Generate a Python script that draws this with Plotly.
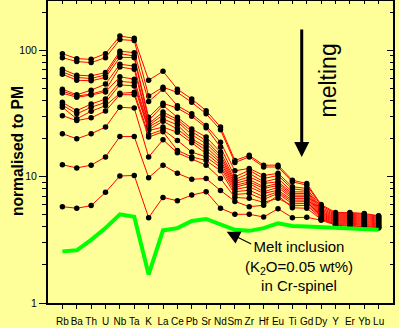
import plotly.graph_objects as go
import math

elements = ["Rb", "Ba", "Th", "U", "Nb", "Ta", "K", "La", "Ce", "Pb", "Sr", "Nd",
            "Sm", "Zr", "Hf", "Eu", "Ti", "Gd", "Dy", "Y", "Er", "Yb", "Lu"]

line_01 = [93.7, 85.5, 84.5, 93.7, 129, 124, 57.8, 68, 49.1, 41.0, 33.2, 24.6, 13.4, 14.7, 12.3, 12.3, 9.35, 8.8, 6.0, 5.2, 5.2, 5.1, 4.9]
line_02 = [87.1, 81.1, 79.6, 87.1, 121, 119, 43.3, 50.9, 46.3, 38.6, 31.3, 23.4, 12.9, 14.3, 11.9, 11.9, 9.08, 8.55, 5.87, 5.12, 5.12, 5.03, 4.85]
line_03 = [70.5, 63.3, 62.5, 66.4, 98, 95.4, 39.2, 49.1, 36.3, 31.3, 25.3, 18.7, 11.1, 11.6, 10.2, 10.6, 8.3, 8.05, 5.71, 5.03, 5.03, 4.94, 4.76]
line_04 = [67.1, 60.7, 59.6, 63.6, 93.7, 89.7, 29.4, 38.0, 34.7, 30.0, 24.3, 17.1, 9.95, 11.2, 9.64, 10.2, 7.98, 7.76, 5.56, 4.94, 4.94, 4.85, 4.68]
line_05 = [64.4, 57.8, 57.1, 60.7, 87.6, 87.1, 27.7, 36.5, 29.4, 23.8, 20.5, 15.6, 9.47, 10.6, 9.08, 9.64, 7.58, 7.55, 5.44, 4.85, 4.85, 4.76, 4.59]
line_06 = [49.1, 44.3, 48.2, 53.8, 77.2, 74.8, 26.1, 32.4, 28.2, 22.7, 19.2, 14.7, 9.14, 9.95, 8.81, 9.08, 7.35, 7.35, 5.31, 4.76, 4.76, 4.68, 4.51]
line_07 = [47.4, 43.3, 44.9, 48.2, 73.5, 70.5, 25.3, 30.7, 27.2, 21.4, 18.2, 14.1, 8.81, 9.47, 8.3, 8.81, 7.13, 7.13, 5.21, 4.68, 4.68, 4.59, 4.43]
line_08 = [45.7, 42.3, 44.1, 46.7, 61.4, 58.9, 24.6, 28.6, 25.6, 19.9, 17.1, 13.4, 8.5, 9.08, 8.05, 8.5, 6.93, 6.93, 5.12, 4.59, 4.59, 4.51, 4.35]
line_09 = [38.6, 33.2, 37.4, 41.0, 56.5, 55.4, 23.5, 27.3, 23.8, 19.3, 16.1, 12.9, 8.2, 8.81, 7.58, 8.2, 6.72, 6.72, 5.03, 4.51, 4.51, 4.43, 4.27]
line_10 = [36.8, 31.3, 35.3, 38.6, 53.1, 52.1, 23.1, 24.6, 22.4, 18.5, 15.2, 12.3, 7.9, 8.3, 7.35, 7.8, 6.51, 6.51, 4.94, 4.43, 4.43, 4.35, 4.2]
line_11 = [35.3, 28.6, 32.8, 36.3, 45.5, 46.3, 21.4, 23.5, 19.3, 15.6, 14.3, 11.8, 7.58, 7.8, 6.93, 7.58, 6.3, 6.33, 4.85, 4.35, 4.35, 4.27, 4.12]
line_12 = [30.3, 27.7, 29.1, 33.0, 44.4, 44.3, 20.5, 22.6, 16.1, 14.3, 13.4, 11.1, 7.22, 7.35, 6.6, 7.35, 6.08, 6.14, 4.76, 4.27, 4.27, 4.2, 4.05]
line_13 = [21.8, 19.9, 21.8, 24.6, 35.3, 34.8, 14.3, 19.5, 15.4, 13.8, 12.3, 9.64, 6.84, 6.72, 6.25, 6.72, 5.87, 5.92, 4.68, 4.2, 4.2, 4.12, 3.98]
line_14 = [12.4, 11.7, 12.3, 14.3, 20.7, 20.7, 9.8, 12.3, 10.6, 9.52, 9.64, 7.76, 6.36, 5.78, 5.92, 7.08, 5.66, 5.61, 4.59, 4.16, 4.12, 4.05, 3.95]
line_15 = [5.78, 5.61, 5.89, 7.5, 10.1, 10.2, 4.73, 6.84, 6.43, 7.13, 7.58, 5.61, 5.03, 5.03, 4.79, 5.56, 4.73, 4.76, 4.51, 4.14, 4.03, 4.03, 3.91]

melt_inclusion = [2.56, 2.61, 3.16, 3.91, 5.03, 4.8, 1.68, 3.75, 3.91, 4.45, 4.62, 4.2, 3.79, 3.72, 3.91, 4.27, 4.07, 4.03, 3.97, 3.92, 3.88, 3.84, 3.79]

y_major = [1, 10, 100]
y_minor = [2, 3, 4, 5, 6, 7, 8, 9, 20, 30, 40, 50, 60, 70, 80, 90, 200]

red_series = [line_01, line_02, line_03, line_04, line_05, line_06, line_07, line_08,
              line_09, line_10, line_11, line_12, line_13, line_14, line_15]

FONT = "Liberation Sans, Arial, sans-serif"
BG = "#FFFF99"
xpos = list(range(len(elements)))
yr = [0, 2.388]
xr = [-1, 23]

fig = go.Figure()
for s in red_series:
    fig.add_trace(go.Scatter(
        x=xpos, y=s, mode="lines+markers",
        line=dict(color="#FF0000", width=1),
        marker=dict(color="black", size=5.5, line=dict(width=0)),
        showlegend=False, hoverinfo="skip"))

fig.add_trace(go.Scatter(
    x=xpos, y=melt_inclusion, mode="lines",
    line=dict(color="#00FF00", width=4),
    showlegend=False, hoverinfo="skip"))

# dummy trace to activate mirror axes
fig.add_trace(go.Scatter(x=[0], y=[1], xaxis="x2", yaxis="y2", mode="lines",
                         line=dict(width=0), showlegend=False, hoverinfo="skip"))

fig.update_layout(
    width=399, height=328,
    margin=dict(l=48, r=6, t=1, b=23),
    paper_bgcolor=BG, plot_bgcolor=BG,
    font=dict(family=FONT, color="black"),
    xaxis=dict(range=xr, tickmode="array", tickvals=xpos, ticktext=elements,
               tickangle=0,
               ticks="outside", ticklen=4, tickwidth=1, tickcolor="black",
               showline=True, linewidth=2, linecolor="black",
               showgrid=False, zeroline=False, tickfont=dict(size=10, family=FONT),
               ticklabelstandoff=4),
    yaxis=dict(type="log", range=yr, tickmode="array", tickvals=y_major,
               ticktext=[str(v) for v in y_major],
               ticks="outside", ticklen=7, tickwidth=1, tickcolor="black",
               minor=dict(tickmode="array", tickvals=y_minor, ticks="outside",
                          ticklen=4, tickwidth=1, tickcolor="black", showgrid=False),
               showline=True, linewidth=2, linecolor="black",
               showgrid=False, zeroline=False, tickfont=dict(size=10.5, family=FONT)),
    xaxis2=dict(overlaying="x", side="top", range=xr, tickmode="array", tickvals=xpos,
                ticks="inside", ticklen=3, tickwidth=1, tickcolor="black",
                showticklabels=False, showline=True, linewidth=2, linecolor="black",
                showgrid=False, zeroline=False),
    yaxis2=dict(overlaying="y", side="right", type="log", range=yr, tickmode="array",
                tickvals=y_major, ticks="inside", ticklen=6, tickwidth=1, tickcolor="black",
                minor=dict(tickmode="array", tickvals=y_minor, ticks="inside",
                           ticklen=3, tickwidth=1, tickcolor="black", showgrid=False),
                showticklabels=False, showline=True, linewidth=2, linecolor="black",
                showgrid=False, zeroline=False),
)

annotations = [
    dict(text="<b>normalised to PM</b>", xref="paper", yref="paper",
         x=-0.09, y=0.503, textangle=-90, showarrow=False,
         xanchor="center", yanchor="middle", font=dict(size=15.6, family=FONT)),
    dict(text="melting", xref="x", yref="paper", x=18.48, y=0.737, textangle=-90,
         showarrow=False, xanchor="center", yanchor="middle",
         font=dict(size=23, family=FONT)),
    dict(text="", xref="x", yref="y", x=16.65, y=math.log10(14.3), ax=0, ay=-129,
         showarrow=True, arrowhead=2, arrowsize=1, arrowwidth=3, arrowcolor="black"),
    dict(text="Melt inclusion<br>(K<sub>2</sub>O=0.05 wt%)<br>in Cr-spinel",
         xref="x", yref="paper", x=16.46, y=0.122, showarrow=False,
         xanchor="center", yanchor="middle", font=dict(size=15, family=FONT)),
    dict(text="", xref="x", yref="y", x=11.43, y=math.log10(3.66), ax=26, ay=13,
         showarrow=True, arrowhead=2, arrowsize=2.2, arrowwidth=1.2, standoff=0,
         arrowcolor="black"),
]
fig.update_layout(annotations=annotations)

fig.write_html("out.html")
